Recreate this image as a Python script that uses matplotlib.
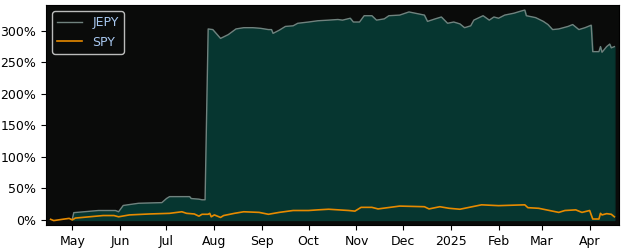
import matplotlib
matplotlib.use("Agg")
import matplotlib.pyplot as plt
import matplotlib.dates as mdates
import matplotlib.ticker as mticker
import pandas as pd

jepy_dates = ["2024-05-01", "2024-05-02", "2024-05-18", "2024-05-29", "2024-05-31", "2024-06-03",
              "2024-06-13", "2024-06-28", "2024-07-01", "2024-07-03", "2024-07-16", "2024-07-17",
              "2024-07-22", "2024-07-24", "2024-07-26", "2024-07-28", "2024-07-31", "2024-08-05",
              "2024-08-10", "2024-08-15", "2024-08-20", "2024-08-26", "2024-08-31", "2024-09-05",
              "2024-09-07", "2024-09-08", "2024-09-12", "2024-09-16", "2024-09-21", "2024-09-24",
              "2024-10-01", "2024-10-07", "2024-10-14", "2024-10-20", "2024-10-23", "2024-10-28",
              "2024-10-30", "2024-11-03", "2024-11-06", "2024-11-11", "2024-11-14", "2024-11-19",
              "2024-11-22", "2024-11-29", "2024-12-05", "2024-12-09", "2024-12-15", "2024-12-17",
              "2024-12-22", "2024-12-26", "2024-12-30", "2025-01-03", "2025-01-07", "2025-01-10",
              "2025-01-14", "2025-01-16", "2025-01-22", "2025-01-26", "2025-01-29", "2025-02-01",
              "2025-02-05", "2025-02-11", "2025-02-15", "2025-02-18", "2025-02-19", "2025-02-25",
              "2025-03-02", "2025-03-05", "2025-03-08", "2025-03-12", "2025-03-15", "2025-03-18",
              "2025-03-21", "2025-03-25", "2025-03-29", "2025-04-02", "2025-04-03", "2025-04-07",
              "2025-04-08", "2025-04-09", "2025-04-12", "2025-04-14", "2025-04-15", "2025-04-17"]
jepy_values = [1, 11.6, 15, 15, 13, 23,
               26.5, 27.5, 34, 37, 37, 34,
               33, 32, 32, 303, 302, 288,
               294, 303, 305, 305, 304, 302,
               302, 296, 301, 307, 308, 312,
               314, 316, 317, 318, 317, 320,
               314, 314, 324, 324, 317, 319,
               324, 325, 330, 328, 325, 315,
               319, 322, 312, 314, 311, 305,
               308, 317, 324, 317, 322, 320,
               325, 328, 331, 333, 324, 321,
               315, 310, 302, 303, 305, 307,
               310, 302, 305, 309, 267, 267,
               275, 266, 275, 279, 273, 275]

spy_dates = ["2024-04-17", "2024-04-19", "2024-04-26", "2024-04-29", "2024-05-01", "2024-05-03",
             "2024-05-12", "2024-05-21", "2024-05-28", "2024-05-31", "2024-06-07", "2024-06-20",
             "2024-07-03", "2024-07-11", "2024-07-14", "2024-07-19", "2024-07-22", "2024-07-24",
             "2024-07-28", "2024-07-29", "2024-07-30", "2024-08-01", "2024-08-05", "2024-08-07",
             "2024-08-14", "2024-08-20", "2024-08-30", "2024-09-05", "2024-09-12", "2024-09-21",
             "2024-10-01", "2024-10-07", "2024-10-14", "2024-10-27", "2024-10-31", "2024-11-04",
             "2024-11-11", "2024-11-15", "2024-11-29", "2024-12-15", "2024-12-18", "2024-12-25",
             "2024-12-31", "2025-01-07", "2025-01-21", "2025-02-01", "2025-02-18", "2025-02-20",
             "2025-02-27", "2025-03-12", "2025-03-16", "2025-03-23", "2025-03-27", "2025-04-01",
             "2025-04-03", "2025-04-07", "2025-04-08", "2025-04-09", "2025-04-12", "2025-04-15",
             "2025-04-17"]
spy_values = [1, -1, 1.5, 2.5, 0, 3,
              5, 7, 7, 5, 8, 9.5,
              10.5, 13, 10.5, 9.5, 6, 9,
              9, 10.5, 5, 8, 4, 7,
              10.5, 13, 12, 9, 12, 15,
              15, 16, 17, 15, 14, 20,
              20, 17.5, 22, 21, 17.5, 21,
              18.5, 17, 24, 22.7, 24, 19.5,
              18.5, 12, 15, 16, 12, 15,
              1.5, 1.5, 10.5, 8, 10, 9,
              5]

jd = pd.to_datetime(jepy_dates)
sd = pd.to_datetime(spy_dates)

fig = plt.figure(figsize=(6.25, 2.5), dpi=100)
ax = fig.add_axes([0.0736, 0.10, 0.9168, 0.88])
ax.set_facecolor("#0a0b0a")

ax.fill_between(jd, jepy_values, 0, color="#063630", zorder=1)
ax.plot(jd, jepy_values, color="#70827e", lw=1.0, label="JEPY", zorder=2)
ax.plot(sd, spy_values, color="#e68a00", lw=1.2, label="SPY", zorder=3)

ax.set_xlim(pd.Timestamp("2024-04-14"), pd.Timestamp("2025-04-20"))
ax.set_ylim(-8, 341)
ax.yaxis.set_major_locator(mticker.MultipleLocator(50))
ax.yaxis.set_major_formatter(mticker.FuncFormatter(lambda v, p: f"{int(v)}%"))
loc = mdates.MonthLocator()
ax.xaxis.set_major_locator(loc)
ax.xaxis.set_major_formatter(mdates.ConciseDateFormatter(loc))
ax.tick_params(labelsize=9)

leg = ax.legend(loc="upper left", fontsize=9, facecolor="#0a0b0a", edgecolor="#bbbbbb",
                framealpha=1)
for t in leg.get_texts():
    t.set_color("#a8c8f0")

fig.savefig("out.png", dpi=100)
